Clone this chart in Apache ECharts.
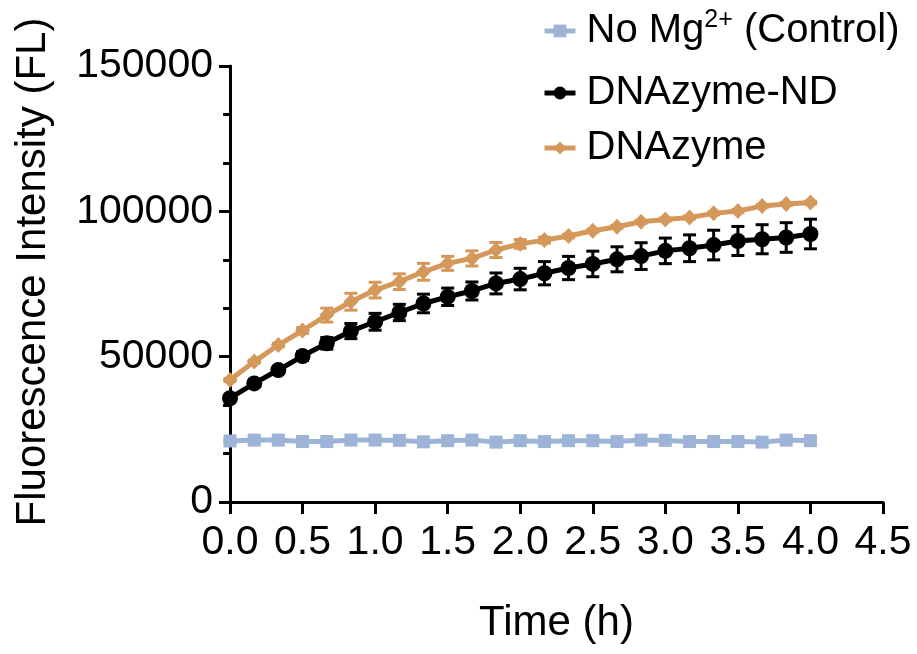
<!DOCTYPE html>
<html>
<head>
<meta charset="utf-8">
<script src="https://cdn.jsdelivr.net/npm/echarts@6/dist/echarts.min.js"></script>
<style>
  html, body { margin: 0; padding: 0; background: #fff; }
  #chart { width: 917px; height: 654px; }
</style>
</head>
<body>
<div id="chart"></div>
<script>
// Sampling times (h), every 10 min
const time = [0, 0.167, 0.333, 0.5, 0.667, 0.833, 1.0, 1.167, 1.333, 1.5, 1.667, 1.833,
  2.0, 2.167, 2.333, 2.5, 2.667, 2.833, 3.0, 3.167, 3.333, 3.5, 3.667, 3.833, 4.0];

// No Mg2+ control (mean, SD)
const controlMean = [21000, 21300, 21300, 20800, 20800, 21300, 21300, 21200, 20700, 21100, 21300, 20600,
  21100, 20800, 21100, 21100, 20800, 21300, 21200, 20800, 20800, 20800, 20600, 21300, 21100];
const controlSD = [400, 400, 400, 400, 400, 400, 500, 400, 400, 400, 400, 400,
  400, 400, 400, 400, 400, 400, 400, 400, 400, 400, 400, 500, 400];

// DNAzyme-ND (mean, SD)
const ndMean = [35700, 40800, 45400, 50200, 54600, 58800, 62000, 65200, 68300, 70600, 72600, 75200,
  76700, 78700, 80500, 81900, 83500, 84600, 86400, 87300, 88400, 89800, 90400, 91000, 92200];
const ndSD = [1000, 1000, 1200, 1500, 2000, 2600, 2900, 2800, 3200, 3000, 3100, 3600,
  3700, 4000, 4000, 4400, 4300, 4600, 4400, 4600, 5100, 5000, 5000, 5100, 5100];

// DNAzyme (mean, SD)
const dzMean = [42000, 48300, 54000, 59000, 64300, 68900, 72900, 75800, 79200, 82100, 83800, 86700,
  88800, 90100, 91500, 93300, 94700, 96400, 97200, 97900, 99300, 100100, 101800, 102500, 103000];
const dzSD = [500, 500, 600, 1000, 2400, 2900, 2700, 2700, 2900, 2400, 2600, 2600,
  1500, 1000, 600, 500, 500, 500, 500, 500, 500, 500, 500, 500, 500];

// Axis ticks
const xTicks = { min: 0, max: 4.5, interval: 0.5 };
const yTicks = { min: 0, max: 150000, interval: 50000 };

const names = ['No Mg2+ (Control)', 'DNAzyme-ND', 'DNAzyme'];
const colors = ['#9db4d6', '#000000', '#d4985a'];

const FONT = 'Liberation Sans, Arial, Helvetica, sans-serif';

function pairs(vals) {
  return time.map((t, i) => [t, vals[i]]);
}

// Mean ± SD whiskers with caps
function errorBars(name, vals, errs, color, z) {
  return {
    type: 'custom',
    name: name + ' SD',
    silent: true,
    z: z,
    data: time.map((t, i) => [t, vals[i] - errs[i], vals[i] + errs[i]]),
    encode: { x: 0, y: [1, 2] },
    renderItem: function (params, api) {
      const lo = api.coord([api.value(0), api.value(1)]);
      const hi = api.coord([api.value(0), api.value(2)]);
      const hw = 6.5;
      const style = { stroke: color, lineWidth: 3 };
      return {
        type: 'group',
        children: [
          { type: 'line', shape: { x1: lo[0], y1: lo[1], x2: hi[0], y2: hi[1] }, style: style },
          { type: 'line', shape: { x1: lo[0] - hw, y1: lo[1], x2: lo[0] + hw, y2: lo[1] }, style: style },
          { type: 'line', shape: { x1: hi[0] - hw, y1: hi[1], x2: hi[0] + hw, y2: hi[1] }, style: style }
        ]
      };
    }
  };
}

function lineSeries(name, vals, color, symbol, size, z) {
  return {
    type: 'line',
    name: name,
    data: pairs(vals),
    symbol: symbol,
    symbolSize: size,
    showAllSymbol: true,
    z: z,
    lineStyle: { color: color, width: 5 },
    itemStyle: { color: color, borderWidth: 0 },
    emphasis: { disabled: true }
  };
}

const legendText = {
  fontFamily: FONT,
  fontSize: 40,
  color: '#000',
  lineHeight: 46,
  padding: [0, 0, 0, 6],
  rich: {
    a: { fontFamily: FONT, fontSize: 40, lineHeight: 46, color: '#000' },
    sup: { fontFamily: FONT, fontSize: 25, lineHeight: 30, verticalAlign: 'top', color: '#000' }
  }
};

function legendAt(name, top) {
  return {
    data: [name],
    left: 542,
    top: top,
    padding: 0,
    orient: 'vertical',
    itemWidth: 31,
    itemHeight: 16,
    selectedMode: false,
    lineStyle: { width: 5 },
    textStyle: legendText,
    formatter: function (n) {
      if (n === names[0]) return '{a|No Mg}{sup|2+}{a| (Control)}';
      return n;
    }
  };
}

const chart = echarts.init(document.getElementById('chart'), null, { renderer: 'canvas' });

chart.setOption({
  animation: false,
  backgroundColor: '#fff',
  grid: { left: 230, right: 34, top: 66, bottom: 152, containLabel: false },
  legend: [
    legendAt(names[0], 8),
    legendAt(names[1], 70),
    legendAt(names[2], 125)
  ],
  xAxis: {
    type: 'value',
    min: xTicks.min,
    max: xTicks.max,
    interval: xTicks.interval,
    name: 'Time (h)',
    nameLocation: 'middle',
    nameGap: 100,
    nameTextStyle: { fontFamily: FONT, fontSize: 42, color: '#000' },
    axisLine: { show: true, onZero: false, lineStyle: { color: '#000', width: 3 } },
    axisTick: { show: true, length: 12, lineStyle: { color: '#000', width: 3 } },
    axisLabel: {
      fontFamily: FONT, fontSize: 41, color: '#000', margin: 20,
      formatter: v => v.toFixed(1)
    },
    splitLine: { show: false }
  },
  yAxis: {
    type: 'value',
    min: yTicks.min,
    max: yTicks.max,
    interval: yTicks.interval,
    name: 'Fluorescence Intensity (FL)',
    nameLocation: 'middle',
    nameGap: 176,
    nameTextStyle: { fontFamily: FONT, fontSize: 42, color: '#000', padding: [0, 0, 0, 24] },
    axisLine: { show: true, lineStyle: { color: '#000', width: 3 } },
    axisTick: { show: true, length: 11, lineStyle: { color: '#000', width: 3 } },
    minorTick: { show: true, splitNumber: 3, length: 7, lineStyle: { color: '#000', width: 3 } },
    axisLabel: {
      fontFamily: FONT, fontSize: 41, color: '#000', margin: 17,
      formatter: v => String(v)
    },
    splitLine: { show: false },
    minorSplitLine: { show: false }
  },
  series: [
    errorBars(names[0], controlMean, controlSD, colors[0], 1),
    lineSeries(names[0], controlMean, colors[0], 'rect', 13, 2),
    errorBars(names[1], ndMean, ndSD, colors[1], 3),
    lineSeries(names[1], ndMean, colors[1], 'circle', 16, 4),
    errorBars(names[2], dzMean, dzSD, colors[2], 5),
    lineSeries(names[2], dzMean, colors[2], 'diamond', [15, 16], 6)
  ]
});
</script>
</body>
</html>
